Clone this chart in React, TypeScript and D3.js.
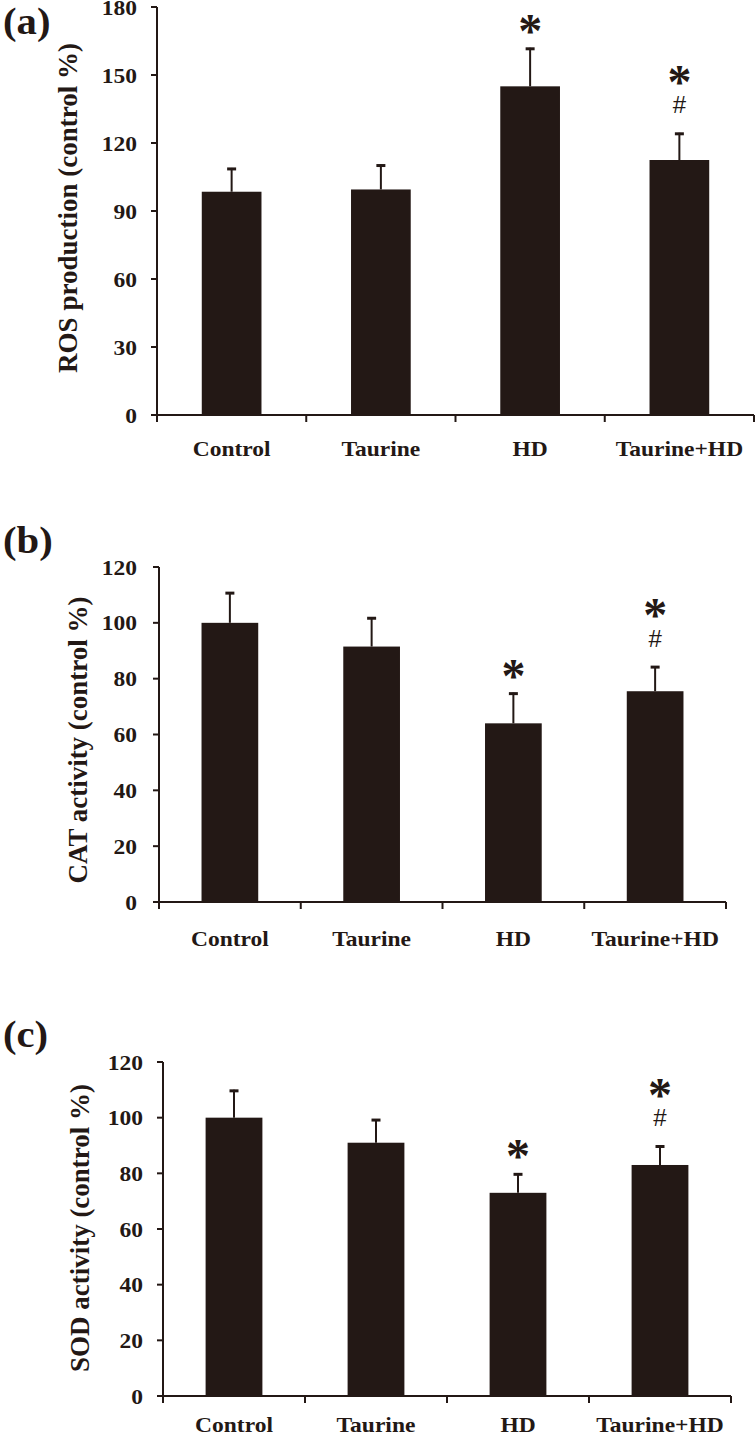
import React from "react";
import * as d3 from "d3";

const categories = ["Control", "Taurine", "HD", "Taurine+HD"];

const rosValues = [98.5, 99.5, 145, 112.5];
const rosErrors = [10.5, 11, 17, 12];
const rosTicks = [0, 30, 60, 90, 120, 150, 180];
const rosMarks = ["", "", "*", "*#"];

const catValues = [100, 91.5, 64, 75.5];
const catErrors = [11, 10.5, 11, 9];
const catTicks = [0, 20, 40, 60, 80, 100, 120];
const catMarks = ["", "", "*", "*#"];

const sodValues = [100, 91, 73, 83];
const sodErrors = [10, 8.5, 7, 7];
const sodTicks = [0, 20, 40, 60, 80, 100, 120];
const sodMarks = ["", "", "*", "*#"];

const INK = "#231815";
const SERIF = "'Liberation Serif', 'Times New Roman', serif";
const SANS = "'Liberation Sans', Arial, sans-serif";

type PanelProps = {
  letter: string;
  title: string;
  values: number[];
  errors: number[];
  ticks: number[];
  marks: string[];
  layout: {
    x0: number; x1: number; yTop: number; yBottom: number;
    titleX: number; titleY: number; tickRight: number;
    labelX: number; labelY: number; catLabelY: number;
  };
};

function Panel({ letter, title, values, errors, ticks, marks, layout }: PanelProps) {
  const L = layout;
  const yMax = ticks[ticks.length - 1];
  const y = d3.scaleLinear().domain([0, yMax]).range([L.yBottom, L.yTop]);
  const x = d3.scaleBand<string>().domain(categories).range([L.x0, L.x1]).paddingInner(0).paddingOuter(0);
  const step = x.bandwidth();
  const barW = step * 0.4;
  const boundaries = categories.map((c) => x(c) as number).concat([L.x1]);

  return (
    <g>
      <text
        transform={`translate(${L.labelX},${L.labelY}) scale(1.1,1)`}
        fontFamily={SERIF}
        fontWeight="bold"
        fontSize={37}
        fill={INK}
      >
        ({letter})
      </text>
      <text
        transform={`translate(${L.titleX},${L.titleY}) rotate(-90)`}
        textAnchor="middle"
        fontFamily={SERIF}
        fontWeight="bold"
        fontSize={27}
        fill={INK}
      >
        {title}
      </text>
      {categories.map((c, i) => {
        const cx = (x(c) as number) + step / 2;
        const top = y(values[i]);
        const errTop = y(values[i] + errors[i]);
        const hasHash = marks[i].includes("#");
        return (
          <g key={c}>
            <rect x={cx - barW / 2} y={top} width={barW} height={L.yBottom - top} fill={INK} />
            <line x1={cx} x2={cx} y1={top} y2={errTop} stroke={INK} strokeWidth={2} />
            <line x1={cx - 4.5} x2={cx + 4.5} y1={errTop + 1} y2={errTop + 1} stroke={INK} strokeWidth={3} />
            {hasHash && (
              <text x={cx} y={errTop - 28 + 8.5} textAnchor="middle" fontFamily={SANS} fontSize={24} fill={INK}>
                #
              </text>
            )}
            {marks[i].includes("*") && (
              <text
                x={cx}
                y={errTop - (hasHash ? 57 : 23) + 22}
                textAnchor="middle"
                fontFamily={SERIF}
                fontWeight="bold"
                fontSize={48}
                fill={INK}
              >
                *
              </text>
            )}
          </g>
        );
      })}
      <line x1={L.x0} x2={L.x0} y1={y(yMax)} y2={L.yBottom + 7} stroke={INK} strokeWidth={2} />
      {ticks.map((t) => (
        <g key={t}>
          <line x1={L.x0 - 6} x2={L.x0} y1={y(t)} y2={y(t)} stroke={INK} strokeWidth={2} />
          <text
            transform={`translate(${L.tickRight},${y(t) + 7.5}) scale(1.12,1)`}
            textAnchor="end"
            fontFamily={SERIF}
            fontWeight="bold"
            fontSize={21}
            fill={INK}
          >
            {t}
          </text>
        </g>
      ))}
      <line x1={L.x0 - 6} x2={L.x1} y1={L.yBottom} y2={L.yBottom} stroke={INK} strokeWidth={2} />
      {boundaries.map((b, i) => (
        <line key={i} x1={b} x2={b} y1={L.yBottom} y2={L.yBottom + 7} stroke={INK} strokeWidth={2} />
      ))}
      {categories.map((c) => (
        <text
          key={c}
          transform={`translate(${(x(c) as number) + step / 2},${L.catLabelY}) scale(1.12,1)`}
          textAnchor="middle"
          fontFamily={SERIF}
          fontWeight="bold"
          fontSize={21}
          fill={INK}
        >
          {c}
        </text>
      ))}
    </g>
  );
}

export default function App() {
  return (
    <svg
      width={756}
      height={1441}
      viewBox="0 0 756 1441"
      style={{ position: "absolute", left: 0, top: 0, background: "#fff" }}
    >
      <rect width={756} height={1441} fill="#fff" />
      <Panel
        letter="a"
        title="ROS  production (control %)"
        values={rosValues}
        errors={rosErrors}
        ticks={rosTicks}
        marks={rosMarks}
        layout={{ x0: 157, x1: 754, yTop: 7, yBottom: 415, titleX: 77, titleY: 208, tickRight: 137, labelX: 3, labelY: 34, catLabelY: 456 }}
      />
      <Panel
        letter="b"
        title="CAT activity (control %)"
        values={catValues}
        errors={catErrors}
        ticks={catTicks}
        marks={catMarks}
        layout={{ x0: 159, x1: 726, yTop: 567, yBottom: 902, titleX: 87, titleY: 740, tickRight: 137, labelX: 3, labelY: 553, catLabelY: 946 }}
      />
      <Panel
        letter="c"
        title="SOD activity (control %)"
        values={sodValues}
        errors={sodErrors}
        ticks={sodTicks}
        marks={sodMarks}
        layout={{ x0: 163, x1: 731, yTop: 1062, yBottom: 1396, titleX: 89, titleY: 1228, tickRight: 143, labelX: 3, labelY: 1047, catLabelY: 1432 }}
      />
    </svg>
  );
}
